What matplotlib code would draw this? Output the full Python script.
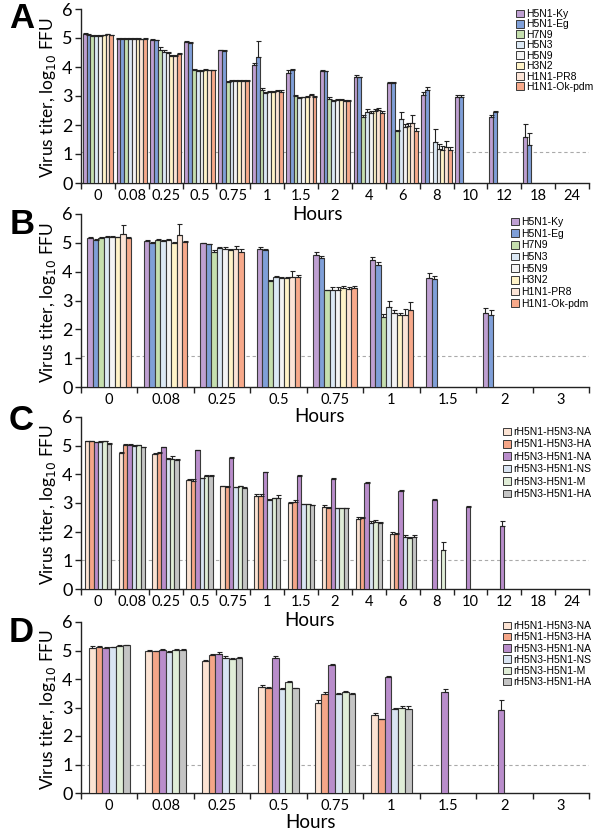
import numpy as np
import matplotlib
matplotlib.use("Agg")
import matplotlib.pyplot as plt
from matplotlib.patches import Patch

nan = np.nan

# ---------------- Panel A ----------------
hours_A = ["0", "0.08", "0.25", "0.5", "0.75", "1", "1.5", "2", "4", "6", "8", "10", "12", "18", "24"]
series_A = ["H5N1-Ky", "H5N1-Eg", "H7N9", "H5N3", "H5N9", "H3N2", "H1N1-PR8", "H1N1-Ok-pdm"]
A_Ky   = [5.15, 4.98, 4.93, 4.86, 4.57, 4.08, 3.80, 3.86, 3.67, 3.46, 3.03, 2.98, 2.29, 1.57, nan]
A_Eg   = [5.12, 4.98, 4.92, 4.83, 4.56, 4.35, 3.90, 3.85, 3.64, 3.46, 3.20, 2.95, 2.46, 1.31, nan]
A_H7N9 = [5.08, 4.98, 4.60, 3.88, 3.50, 3.22, 3.01, 2.90, 2.26, 1.80, nan, nan, nan, nan, nan]
A_H5N3 = [5.08, 4.98, 4.52, 3.87, 3.52, 3.10, 2.92, 2.83, 2.46, 2.20, 1.42, nan, nan, nan, nan]
A_H5N9 = [5.08, 4.97, 4.48, 3.87, 3.53, 3.13, 2.95, 2.86, 2.43, 1.94, 1.18, nan, nan, nan, nan]
A_H3N2 = [5.10, 4.97, 4.38, 3.90, 3.52, 3.15, 2.98, 2.86, 2.49, 1.97, 1.14, nan, nan, nan, nan]
A_PR8  = [5.13, 4.96, 4.37, 3.88, 3.52, 3.17, 3.03, 2.84, 2.52, 2.08, 1.25, nan, nan, nan, nan]
A_Ok   = [5.10, 4.97, 4.45, 3.88, 3.52, 3.15, 2.98, 2.83, 2.43, 1.80, 1.13, nan, nan, nan, nan]
A_Ky_e   = [.03, .02, .02, .02, .02, .05, .10, .02, .04, .02, .10, .07, .07, .45, nan]
A_Eg_e   = [.02, .02, .02, .02, .02, .53, .04, .02, .03, .02, .12, .08, .04, .42, nan]
A_H7N9_e = [.02, .02, .08, .04, .02, .07, .04, .06, .10, .02, nan, nan, nan, nan, nan]
A_H5N3_e = [.02, .02, .05, .03, .02, .04, .03, .03, .08, .26, .45, nan, nan, nan, nan]
A_H5N9_e = [.02, .02, .03, .02, .02, .03, .02, .02, .06, .10, .15, nan, nan, nan, nan]
A_H3N2_e = [.02, .02, .03, .02, .02, .03, .03, .03, .06, .10, .12, nan, nan, nan, nan]
A_PR8_e  = [.02, .02, .03, .03, .02, .05, .04, .02, .06, .26, .20, nan, nan, nan, nan]
A_Ok_e   = [.02, .02, .05, .02, .02, .05, .03, .02, .04, .10, .12, nan, nan, nan, nan]

# ---------------- Panel B ----------------
hours_B = ["0", "0.08", "0.25", "0.5", "0.75", "1", "1.5", "2", "3"]
B_Ky   = [5.16, 5.06, 4.98, 4.79, 4.59, 4.42, 3.79, 2.57, nan]
B_Eg   = [5.10, 5.00, 4.95, 4.75, 4.49, 4.22, 3.73, 2.51, nan]
B_H7N9 = [5.18, 5.10, 4.69, 3.66, 3.36, 2.43, nan, nan, nan]
B_H5N3 = [5.21, 5.06, 4.81, 3.81, 3.38, 2.78, nan, nan, nan]
B_H5N9 = [5.19, 5.10, 4.78, 3.79, 3.38, 2.57, nan, nan, nan]
B_H3N2 = [5.19, 5.00, 4.75, 3.77, 3.44, 2.49, nan, nan, nan]
B_PR8  = [5.29, 5.27, 4.78, 3.81, 3.41, 2.51, nan, nan, nan]
B_Ok   = [5.16, 5.02, 4.69, 3.83, 3.45, 2.66, nan, nan, nan]
B_Ky_e   = [.03, .03, .02, .06, .08, .08, .15, .18, nan]
B_Eg_e   = [.02, .02, .02, .04, .07, .12, .12, .15, nan]
B_H7N9_e = [.02, .02, .05, .05, .02, .10, nan, nan, nan]
B_H5N3_e = [.03, .03, .04, .05, .08, .20, nan, nan, nan]
B_H5N9_e = [.03, .03, .06, .04, .08, .10, nan, nan, nan]
B_H3N2_e = [.02, .02, .05, .04, .05, .08, nan, nan, nan]
B_PR8_e  = [.33, .40, .10, .20, .06, .20, nan, nan, nan]
B_Ok_e   = [.03, .03, .08, .05, .06, .30, nan, nan, nan]

# ---------------- Panel C ----------------
series_C = ["rH5N1-H5N3-NA", "rH5N1-H5N3-HA", "rH5N3-H5N1-NA", "rH5N3-H5N1-NS", "rH5N3-H5N1-M", "rH5N3-H5N1-HA"]
C_1NA = [5.15, 4.74, 4.72, 3.81, 3.58, 3.26, 2.99, 2.87, 2.43, 1.91, nan, nan, nan, nan, nan]
C_1HA = [5.15, 5.03, 4.74, 3.78, 3.56, 3.26, 3.05, 2.84, 2.47, 1.91, nan, nan, nan, nan, nan]
C_3NA = [5.12, 5.03, 4.94, 4.84, 4.57, 4.07, 3.94, 3.85, 3.69, 3.42, 3.10, 2.85, 2.20, nan, nan]
C_3NS = [5.13, 5.00, 4.53, 3.86, 3.55, 3.12, 2.95, 2.81, 2.31, 1.80, nan, nan, nan, nan, nan]
C_3M  = [5.15, 5.01, 4.53, 3.95, 3.58, 3.16, 2.95, 2.81, 2.34, 1.77, 1.36, nan, nan, nan, nan]
C_3HA = [5.07, 4.95, 4.51, 3.93, 3.52, 3.17, 2.92, 2.81, 2.29, 1.80, nan, nan, nan, nan, nan]
C_1NA_e = [.03, .03, .03, .03, .03, .07, .03, .05, .08, .08, nan, nan, nan, nan, nan]
C_1HA_e = [.03, .02, .03, .05, .03, .05, .04, .03, .03, .05, nan, nan, nan, nan, nan]
C_3NA_e = [.02, .02, .02, .02, .04, .02, .02, .02, .03, .02, .05, .05, .18, nan, nan]
C_3NS_e = [.02, .02, .03, .02, .02, .02, .02, .02, .05, .08, nan, nan, nan, nan, nan]
C_3M_e  = [.02, .02, .12, .02, .03, .03, .02, .02, .07, .05, .28, nan, nan, nan, nan]
C_3HA_e = [.02, .02, .03, .03, .05, .12, .02, .02, .05, .10, nan, nan, nan, nan, nan]

# ---------------- Panel D ----------------
D_1NA = [5.10, 4.98, 4.63, 3.72, 3.16, 2.73, nan, nan, nan]
D_1HA = [5.12, 4.98, 4.85, 3.70, 3.49, 2.58, nan, nan, nan]
D_3NA = [5.10, 5.01, 4.89, 4.74, 4.48, 4.07, 3.54, 2.90, nan]
D_3NS = [5.12, 4.95, 4.74, 3.66, 3.49, 2.95, nan, nan, nan]
D_3M  = [5.17, 5.01, 4.69, 3.89, 3.53, 2.99, nan, nan, nan]
D_3HA = [5.18, 5.03, 4.75, 3.68, 3.49, 2.94, nan, nan, nan]
D_1NA_e = [.05, .03, .03, .06, .10, .08, nan, nan, nan]
D_1HA_e = [.03, .02, .03, .03, .06, .03, nan, nan, nan]
D_3NA_e = [.02, .03, .05, .07, .05, .02, .12, .35, nan]
D_3NS_e = [.02, .02, .05, .03, .03, .02, nan, nan, nan]
D_3M_e  = [.02, .03, .03, .05, .05, .05, nan, nan, nan]
D_3HA_e = [.02, .03, .03, .02, .02, .10, nan, nan, nan]

colors_A = ["#BFA0D2", "#7F9FD8", "#C5DFAE", "#DCE9F5", "#F4F4F4", "#FFF3C8", "#FCE4D6", "#F7A98A"]
colors_C = ["#FCE3D3", "#F5A688", "#B98DCB", "#D9E4F2", "#E0EDD7", "#C4C4C4"]

FONT = ["Lato", "DejaVu Sans"]
LEGFONT = ["Liberation Sans", "DejaVu Sans"]
EDGE = "#3a3a3a"

fig = plt.figure(figsize=(6.0, 8.33), dpi=100)
W, H = 600.0, 833.0

def make_axes(top, bottom, left=81, right=589):
    return fig.add_axes([left / W, 1 - bottom / H, (right - left) / W, (bottom - top) / H])

def draw_panel(ax, labels, data, errs, colors, names, span, thresh, leg_xy, leg_spacing):
    n = len(labels)
    k = len(data)
    bw = span / k
    x = np.arange(n)
    for j, (vals, e, c) in enumerate(zip(data, errs, colors)):
        vals = np.array(vals, dtype=float)
        e = np.array(e, dtype=float)
        pos = x - span / 2 + bw * (j + 0.5)
        ax.bar(pos, vals, width=bw, color=c, edgecolor=EDGE, linewidth=0.8, zorder=3)
        ax.errorbar(pos, vals, yerr=[np.zeros_like(e), e], fmt="none", ecolor="#222222",
                    elinewidth=0.8, capsize=1.8, capthick=0.8, zorder=4)
    ax.axhline(thresh, color="#AAAAAA", lw=0.8, ls=(0, (3, 2.5)), zorder=1)
    ax.set_xlim(-0.5, n - 0.5)
    ax.set_ylim(0, 6)
    ax.set_yticks(range(7))
    ax.set_yticklabels([str(i) for i in range(7)], fontsize=13, family=FONT)
    ax.set_xticks(np.arange(n + 1) - 0.5)
    ax.set_xticklabels([])
    ax.set_xticks(x, minor=True)
    ax.set_xticklabels(labels, minor=True, fontsize=10.5, family=FONT)
    ax.tick_params(axis="x", which="major", length=4, width=1, direction="out", color="#222222")
    ax.tick_params(axis="x", which="minor", length=0, pad=4)
    ax.tick_params(axis="y", length=4, width=1, direction="out", pad=2, color="#222222")
    for s in ["top", "right"]:
        ax.spines[s].set_visible(False)
    for s in ["left", "bottom"]:
        ax.spines[s].set_color("#222222")
        ax.spines[s].set_linewidth(1.0)
    ax.set_ylabel("Virus titer, log$_{10}$ FFU", fontsize=12.5, family=FONT)
    ax.yaxis.set_label_coords(-0.046, 0.49)
    handles = [Patch(facecolor=c, edgecolor=EDGE, linewidth=0.7) for c in colors]
    ax.legend(handles, names, loc="upper left", bbox_to_anchor=(leg_xy[0] / W, 1 - leg_xy[1] / H),
              bbox_transform=fig.transFigure, frameon=False,
              prop={"family": LEGFONT, "size": 7.5}, handlelength=0.75, handleheight=0.75,
              handletextpad=0.25, labelspacing=leg_spacing, borderpad=0, borderaxespad=0)

axA = make_axes(9, 183)
draw_panel(axA, hours_A,
           [A_Ky, A_Eg, A_H7N9, A_H5N3, A_H5N9, A_H3N2, A_PR8, A_Ok],
           [A_Ky_e, A_Eg_e, A_H7N9_e, A_H5N3_e, A_H5N9_e, A_H3N2_e, A_PR8_e, A_Ok_e],
           colors_A, series_A, 0.9, 1.08, (516, 9), 0.04)
axB = make_axes(214, 387)
draw_panel(axB, hours_B,
           [B_Ky, B_Eg, B_H7N9, B_H5N3, B_H5N9, B_H3N2, B_PR8, B_Ok],
           [B_Ky_e, B_Eg_e, B_H7N9_e, B_H5N3_e, B_H5N9_e, B_H3N2_e, B_PR8_e, B_Ok_e],
           colors_A, series_A, 0.77, 1.06, (511, 217), 0.16)
axC = make_axes(417, 589)
draw_panel(axC, hours_A,
           [C_1NA, C_1HA, C_3NA, C_3NS, C_3M, C_3HA],
           [C_1NA_e, C_1HA_e, C_3NA_e, C_3NS_e, C_3M_e, C_3HA_e],
           colors_C, series_C, 0.78, 1.0, (503, 427), 0.23)
axD = make_axes(622, 793)
draw_panel(axD, hours_B,
           [D_1NA, D_1HA, D_3NA, D_3NS, D_3M, D_3HA],
           [D_1NA_e, D_1HA_e, D_3NA_e, D_3NS_e, D_3M_e, D_3HA_e],
           colors_C, series_C, 0.72, 1.0, (503, 621), 0.12)

for (xc, yc) in [(318, 214), (319, 417), (309, 620), (310, 822)]:
    fig.text(xc / W, 1 - yc / H, "Hours", ha="center", va="center", fontsize=13.5, family=FONT)

for lab, (xc, yc) in zip("ABCD", [(22, 18), (22, 225), (21, 421), (21, 633)]):
    fig.text(xc / W, 1 - yc / H, lab, ha="center", va="center", fontsize=25,
             fontweight="bold", family=LEGFONT)

fig.savefig("out.png", dpi=100)
